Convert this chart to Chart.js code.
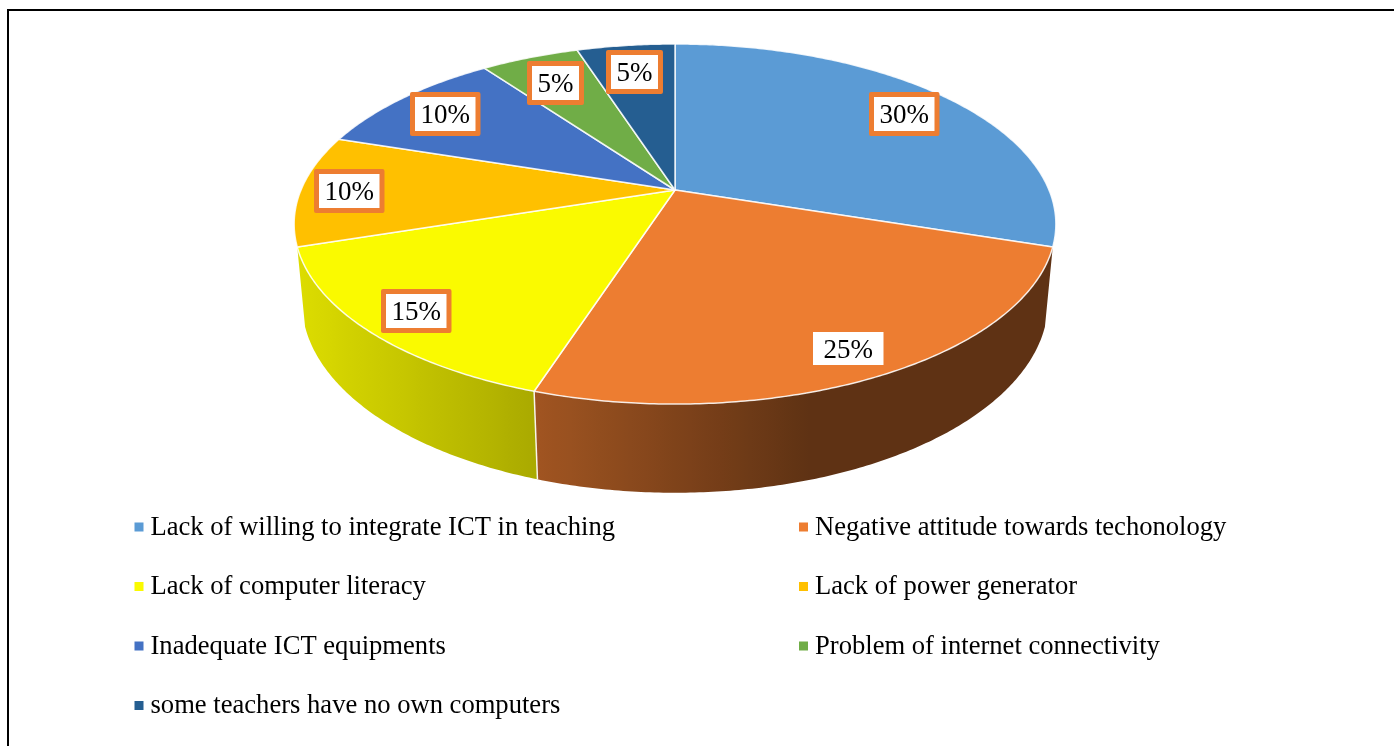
<!DOCTYPE html>
<html>
<head>
<meta charset="utf-8">
<style>
  html, body { margin: 0; padding: 0; background: #fff; overflow: hidden; }
  canvas { display: block; }
  #frame { position: absolute; left: 7px; top: 9px; right: 0; bottom: 0; border-left: 2.5px solid #000; border-top: 2px solid #000; pointer-events: none; }
</style>
</head>
<body>
<canvas id="chart" width="1394" height="746"></canvas>
<div id="frame"></div>
<script src="https://cdn.jsdelivr.net/npm/chart.js@4"></script>
<script>
const categories = [
  "Lack of willing to integrate ICT in teaching",
  "Negative attitude towards techonology",
  "Lack of computer literacy",
  "Lack of power generator",
  "Inadequate ICT equipments",
  "Problem of internet connectivity",
  "some teachers have no own computers"
];
const shares = [30, 25, 15, 10, 10, 5, 5];
const sliceColors = ["#5B9BD5", "#ED7D31", "#FAFA00", "#FFC000", "#4472C4", "#70AD47", "#255E91"];
const valueLabels = ["30%", "25%", "15%", "10%", "10%", "5%", "5%"];
const framedLabels = [true, false, true, true, true, true, true];

// how far along the radius each label sits
const labelRadius = [0.826, 0.87, 0.866, 0.87, 0.828, 0.795, 0.795];

const FONT = '"Liberation Serif", "Times New Roman", serif';

// perspective of the tilted pie, fitted to the slice ends in the picture
const view = { cx: 675, cy: 190, rx: 374, ry: 173.6, k: 0.189, depthW: 0.02, depthY: 78 };
// part of the rim whose side wall can be seen
const wallArc = [0.1 * Math.PI, 0.9 * Math.PI];

function project(angle, r, lower) {
  const u = Math.cos(angle) * r;
  const v = Math.sin(angle) * r;
  const w = 1 - view.k * v + (lower ? view.depthW : 0);
  return {
    x: view.cx + view.rx * u / w,
    y: view.cy + (view.ry * v + (lower ? view.depthY : 0)) / w
  };
}

function rimPath(ctx, from, to, lower, first) {
  const steps = Math.max(2, Math.ceil(Math.abs(to - from) / 0.01));
  for (let i = 0; i <= steps; i++) {
    const p = project(from + (to - from) * i / steps, 1, lower);
    if (i === 0 && first) ctx.moveTo(p.x, p.y);
    else ctx.lineTo(p.x, p.y);
  }
}

// side wall gets darker from left to right, then stays flat
function wallShade(x) {
  if (x < 535) return 0.88 - (x - 300) / 235 * 0.2;
  if (x < 810) return 0.68 - (x - 535) / 275 * 0.28;
  return 0.4;
}

function scaled(hex, f) {
  const n = parseInt(hex.slice(1), 16);
  const c = [n >> 16, (n >> 8) & 255, n & 255].map(v => Math.round(v * f));
  return "rgb(" + c.join(",") + ")";
}

const pie3d = {
  id: "pie3d",
  beforeDatasetsDraw(chart) {
    const ctx = chart.ctx;
    const arcs = chart.getDatasetMeta(0).data;
    ctx.save();
    ctx.lineJoin = "round";

    // side walls
    arcs.forEach((arc, i) => {
      const from = Math.max(arc.startAngle, wallArc[0]);
      const to = Math.min(arc.endAngle, wallArc[1]);
      if (to <= from) return;
      const grad = ctx.createLinearGradient(300, 0, 1050, 0);
      for (let x = 300; x <= 1050; x += 15) {
        grad.addColorStop((x - 300) / 750, scaled(sliceColors[i], wallShade(x)));
      }
      ctx.beginPath();
      rimPath(ctx, from, to, false, true);
      rimPath(ctx, to, from, true, false);
      ctx.closePath();
      ctx.fillStyle = grad;
      ctx.fill();
    });
    // white seam between the two visible walls
    arcs.forEach(arc => {
      if (arc.startAngle > wallArc[0] + 0.01 && arc.startAngle < wallArc[1] - 0.01) {
        const a = project(arc.startAngle, 1, false);
        const b = project(arc.startAngle, 1, true);
        ctx.beginPath();
        ctx.moveTo(a.x, a.y);
        ctx.lineTo(b.x, b.y);
        ctx.strokeStyle = "rgba(255,255,255,0.9)";
        ctx.lineWidth = 1.5;
        ctx.stroke();
      }
    });

    // top surface
    arcs.forEach((arc, i) => {
      ctx.beginPath();
      ctx.moveTo(view.cx, view.cy);
      rimPath(ctx, arc.startAngle, arc.endAngle, false, false);
      ctx.closePath();
      ctx.fillStyle = sliceColors[i];
      ctx.fill();
      ctx.strokeStyle = "rgba(255,255,255,0.85)";
      ctx.lineWidth = 1.5;
      ctx.stroke();
    });
    ctx.restore();
    return false;
  },
  afterDraw(chart) {
    const ctx = chart.ctx;
    const arcs = chart.getDatasetMeta(0).data;
    ctx.save();
    ctx.textBaseline = "alphabetic";
    ctx.textAlign = "left";

    // value labels
    ctx.font = "27px " + FONT;
    arcs.forEach((arc, i) => {
      const mid = (arc.startAngle + arc.endAngle) / 2;
      const p = project(mid, labelRadius[i], false);
      const tw = ctx.measureText(valueLabels[i]).width;
      const bw = tw + 21, bh = framedLabels[i] ? 44 : 33;
      const bx = Math.round(p.x - bw / 2), by = Math.round(p.y - bh / 2) + 1;
      if (framedLabels[i]) {
        ctx.fillStyle = "#ED7D31";
        ctx.beginPath();
        ctx.roundRect(bx, by, bw, bh, 2);
        ctx.fill();
        ctx.fillStyle = "#fff";
        ctx.fillRect(bx + 5, by + 5, bw - 10, bh - 10);
      } else {
        ctx.fillStyle = "#fff";
        ctx.fillRect(bx, by, bw, bh);
      }
      ctx.fillStyle = "#000";
      ctx.fillText(valueLabels[i], bx + (bw - tw) / 2, by + bh / 2 + 9);
    });

    // two column legend
    ctx.font = "26.6px " + FONT;
    categories.forEach((name, i) => {
      const col = i % 2, row = Math.floor(i / 2);
      const x = col ? 815 : 150.5;
      const y = 526.5 + row * 59.5;
      ctx.fillStyle = sliceColors[i];
      ctx.fillRect(x - 16, y - 4, 9, 9);
      ctx.fillStyle = "#000";
      ctx.fillText(name, x, y + 8);
    });
    ctx.restore();
  }
};

new Chart(document.getElementById("chart"), {
  type: "pie",
  data: {
    labels: categories,
    datasets: [{ data: shares, backgroundColor: sliceColors }]
  },
  options: {
    responsive: false,
    animation: false,
    plugins: { legend: { display: false }, tooltip: { enabled: false } }
  },
  plugins: [pie3d]
});
</script>
</body>
</html>
